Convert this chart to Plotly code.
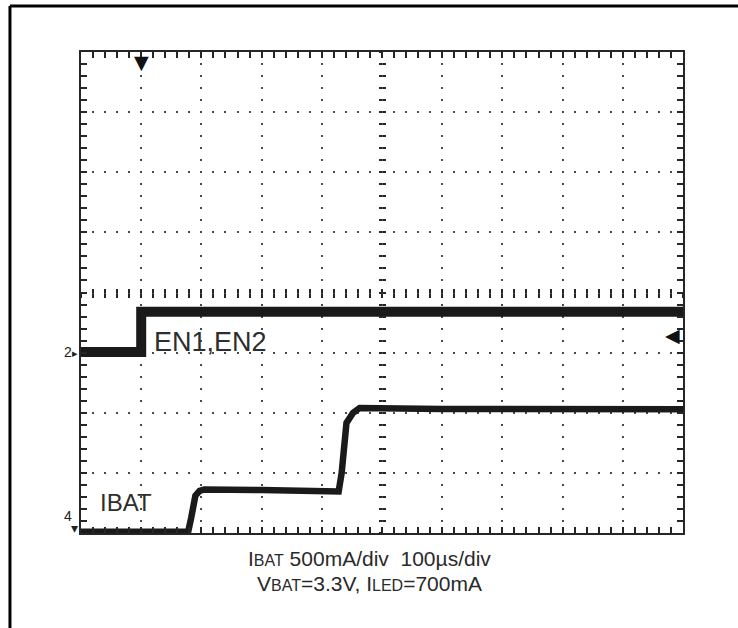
import plotly.graph_objects as go

# ---- data ----
# EN1,EN2 logic trace (channel 2), in screen divisions
en_time_us = [0, 100, 100, 1000]
en_level_div = [3.01, 3.01, 3.68, 3.68]

# IBAT trace (channel 4), 500 mA/div, zero at bottom graticule
ibat_time_us = [0, 178, 183, 186, 190, 197, 205, 300, 380, 428, 433, 436, 441, 452, 463, 600, 800, 1000]
ibat_mA = [10, 10, 125, 225, 310, 350, 362, 358, 352, 345, 500, 715, 915, 1000, 1040, 1032, 1035, 1030]

x_range = [0, 1000]        # 100 us/div, 10 div
y_range_div = [0, 8]       # 8 vertical divisions
ibat_range_mA = [0, 4000]  # 500 mA/div * 8 div

TRACE = "#1a1a1a"
AXC = "#262626"
GRIDC = "#4a4a4a"
FONT = "Liberation Sans, Arial, sans-serif"

fig = go.Figure()
fig.add_trace(go.Scatter(x=en_time_us, y=en_level_div, mode="lines",
                         line=dict(color=TRACE, width=10), xaxis="x", yaxis="y",
                         showlegend=False, hoverinfo="skip"))
fig.add_trace(go.Scatter(x=ibat_time_us, y=ibat_mA, mode="lines",
                         line=dict(color=TRACE, width=6.5), xaxis="x", yaxis="y2",
                         showlegend=False, hoverinfo="skip"))
# empty traces so that the overlay (graticule) axes get rendered
for xa, ya in [("x2", "y"), ("x3", "y"), ("x4", "y"), ("x", "y3"), ("x", "y4"), ("x", "y5")]:
    fig.add_trace(go.Scatter(x=[None], y=[None], xaxis=xa, yaxis=ya, mode="lines",
                             showlegend=False, hoverinfo="skip"))

noaxis = dict(showticklabels=False, zeroline=False, fixedrange=True)

fig.update_layout(
    width=738, height=628,
    margin=dict(l=81, r=55, t=52, b=95),
    paper_bgcolor="white", plot_bgcolor="white",
    font=dict(family=FONT, color="#2a2a2a"),
    hovermode=False,
    # border with fine ticks every 0.2 div on all four sides
    xaxis=dict(range=x_range, tick0=0, dtick=20, showline=True, linewidth=2, linecolor=AXC,
               mirror="ticks", ticks="inside", ticklen=6, tickwidth=2, tickcolor=AXC,
               showgrid=False, **noaxis),
    yaxis=dict(range=y_range_div, tick0=0, dtick=0.2, showline=True, linewidth=2, linecolor=AXC,
               mirror="ticks", ticks="inside", ticklen=6, tickwidth=2, tickcolor=AXC,
               showgrid=False, **noaxis),
    # dotted graticule every division
    xaxis4=dict(range=x_range, overlaying="x", anchor="y", tick0=0, dtick=100, ticks="",
                showline=False, showgrid=True, gridcolor=GRIDC, gridwidth=2,
                griddash="1px,10.025px,1px,0px", **noaxis),
    yaxis5=dict(range=y_range_div, overlaying="y", anchor="x", tick0=0, dtick=1, ticks="",
                showline=False, showgrid=True, gridcolor=GRIDC, gridwidth=2,
                griddash="1px,10.04px,1px,0px", **noaxis),
    yaxis2=dict(range=ibat_range_mA, overlaying="y", visible=False, fixedrange=True),
    # centre graticule lines with cross ticks
    xaxis2=dict(range=x_range, overlaying="x", anchor="free", position=0.5, side="bottom",
                showline=False, ticks="inside", ticklen=4, tickwidth=2, tickcolor=AXC,
                tick0=0, dtick=20, showgrid=False, **noaxis),
    xaxis3=dict(range=x_range, overlaying="x", anchor="free", position=0.5, side="bottom",
                showline=False, ticks="outside", ticklen=4, tickwidth=2, tickcolor=AXC,
                tick0=0, dtick=20, showgrid=False, **noaxis),
    yaxis3=dict(range=y_range_div, overlaying="y", anchor="free", position=0.5, side="left",
                showline=False, ticks="inside", ticklen=3, tickwidth=2, tickcolor=AXC,
                tick0=0, dtick=0.2, showgrid=False, **noaxis),
    yaxis4=dict(range=y_range_div, overlaying="y", anchor="free", position=0.5, side="left",
                showline=False, ticks="outside", ticklen=3, tickwidth=2, tickcolor=AXC,
                tick0=0, dtick=0.2, showgrid=False, **noaxis),
)

ann = []
# trace labels
ann.append(dict(text="EN1,EN2", x=118, y=3.17, xref="x", yref="y", xanchor="left",
                yanchor="middle", showarrow=False, font=dict(size=27, color="#2e2e2e")))
ann.append(dict(text="IBAT", x=28, y=0.5, xref="x", yref="y", xanchor="left",
                yanchor="middle", showarrow=False, font=dict(size=24, color="#2e2e2e")))
# scope markers
ann.append(dict(text="▼", x=100, y=0.98, xref="x", yref="paper", xanchor="center",
                yanchor="middle", showarrow=False, font=dict(size=25, color="#111")))
ann.append(dict(text="◀", x=0.999, y=3.28, xref="paper", yref="y", xanchor="right",
                yanchor="middle", showarrow=False, font=dict(size=19, color="#111")))
ann.append(dict(text="2<span style='font-size:11px'>▸</span>", x=-0.001, y=3.01, xref="paper", yref="y",
                xanchor="right", yanchor="middle", showarrow=False,
                font=dict(size=14, color="#222")))
ann.append(dict(text="4", x=-0.012, y=0.28, xref="paper", yref="y", xanchor="right",
                yanchor="middle", showarrow=False, font=dict(size=14, color="#222")))
ann.append(dict(text="▾", x=-0.001, y=0.08, xref="paper", yref="y", xanchor="right",
                yanchor="middle", showarrow=False, font=dict(size=14, color="#222")))
# captions
ann.append(dict(text="I<span style='font-size:16px'>BAT</span> 500mA/div\u00a0\u00a0100µs/div",
                x=0.48, y=-0.052, xref="paper", yref="paper", xanchor="center",
                yanchor="middle", showarrow=False, font=dict(size=21, color="#2a2a2a")))
ann.append(dict(text="V<span style='font-size:16px'>BAT</span>=3.3V, I<span style='font-size:16px'>LED</span>=700mA",
                x=0.48, y=-0.106, xref="paper", yref="paper", xanchor="center",
                yanchor="middle", showarrow=False, font=dict(size=21, color="#2a2a2a")))
fig.update_layout(annotations=ann)

# outer frame (left and top edges visible in the crop)
fig.add_shape(type="line", xref="paper", yref="paper", x0=-0.118, x1=-0.118, y0=-0.3, y1=1.0956,
              line=dict(color="black", width=3))
fig.add_shape(type="line", xref="paper", yref="paper", x0=-0.118, x1=1.2, y0=1.0956, y1=1.0956,
              line=dict(color="black", width=3))

fig.write_html("out.html", config={"displayModeBar": False, "staticPlot": True},
               post_script="document.body.style.margin='0';")
